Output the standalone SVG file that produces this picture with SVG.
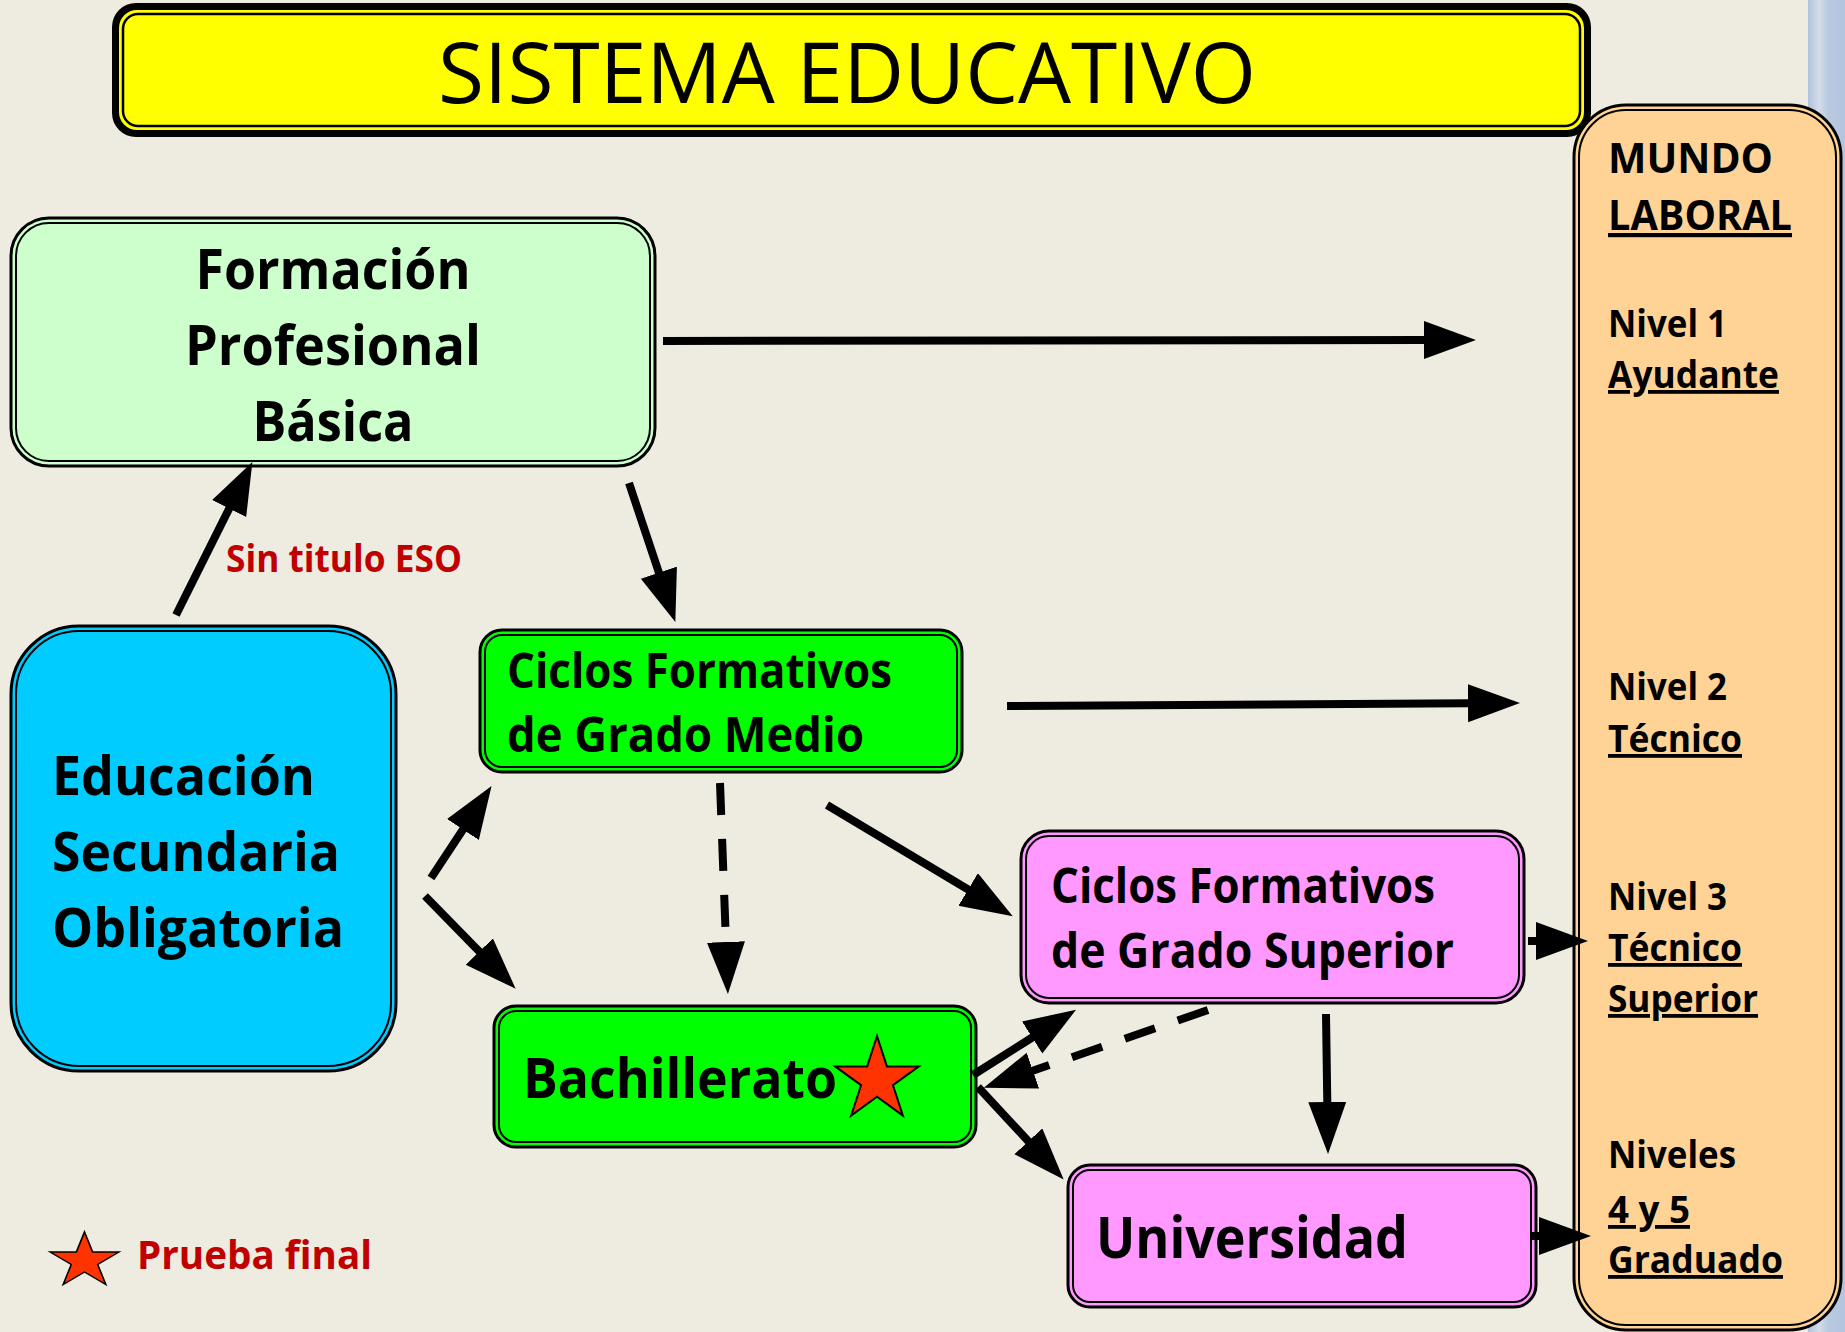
<svg xmlns="http://www.w3.org/2000/svg" width="1845" height="1332" viewBox="0 0 1845 1332">
<defs>
<style>
.bg{fill:#EEEBE0}
.t{font-family:"Open Sans","Noto Sans","Liberation Sans",sans-serif;font-weight:700;fill:#000}
.red{fill:#C00000}
.u{text-decoration:underline}
.outer{stroke:#000;stroke-width:3}
.inner{fill:none;stroke:#000;stroke-width:2}
.ln{stroke:#000;stroke-width:8;fill:none;marker-end:url(#ah)}
.dash{stroke-dasharray:32 24}
.star{fill:#FF3300;stroke:#000;stroke-width:2;stroke-linejoin:miter}
</style>
<marker id="ah" markerUnits="userSpaceOnUse" markerWidth="56" markerHeight="40" refX="1" refY="19" orient="auto">
<path d="M0,0 L52,19 L0,38 z" fill="#000"/>
</marker>
<linearGradient id="strip" x1="0" y1="0" x2="1" y2="0">
<stop offset="0" stop-color="#AFC2DC"/>
<stop offset="0.3" stop-color="#D3DDEA"/>
<stop offset="0.55" stop-color="#B8C9E0"/>
<stop offset="1" stop-color="#B3C5DE"/>
</linearGradient>
<polygon id="star" points="0,-44 9.87,-13.59 41.85,-13.6 15.98,5.19 25.86,35.6 0,16.8 -25.86,35.6 -15.98,5.19 -41.85,-13.6 -9.87,-13.59"/>
</defs>
<rect class="bg" x="0" y="0" width="1845" height="1332"/>
<rect x="1808" y="0" width="37" height="1332" fill="url(#strip)"/>

<g id="title">
<rect x="112" y="3" width="1479" height="134" rx="24" fill="#000"/>
<rect x="119" y="10" width="1465" height="120" rx="18" fill="#FFFF00"/>
<rect x="123" y="14" width="1457" height="112" rx="15" fill="#FFFF00" stroke="#000" stroke-width="2.5"/>
<text x="847" y="103" text-anchor="middle" font-family="Open Sans, Noto Sans, Liberation Sans, sans-serif" font-size="84" textLength="818" lengthAdjust="spacingAndGlyphs">SISTEMA EDUCATIVO</text>
</g>

<g id="mundo-laboral">
<rect class="outer" x="1574" y="105" width="267" height="1225" rx="52" fill="#FFD396"/>
<rect class="inner" x="1579" y="110" width="257" height="1215" rx="47"/>
<text class="t" x="1608" y="173" font-size="42" textLength="165" lengthAdjust="spacingAndGlyphs">MUNDO</text>
<text class="t u" x="1608" y="230" font-size="42" textLength="184" lengthAdjust="spacingAndGlyphs">LABORAL</text>
<text class="t" x="1608" y="337" font-size="38" textLength="119" lengthAdjust="spacingAndGlyphs">Nivel 1</text>
<text class="t u" x="1608" y="388" font-size="38" textLength="171" lengthAdjust="spacingAndGlyphs">Ayudante</text>
<text class="t" x="1608" y="700" font-size="38" textLength="119" lengthAdjust="spacingAndGlyphs">Nivel 2</text>
<text class="t u" x="1608" y="752" font-size="38" textLength="134" lengthAdjust="spacingAndGlyphs">Técnico</text>
<text class="t" x="1608" y="910" font-size="38" textLength="119" lengthAdjust="spacingAndGlyphs">Nivel 3</text>
<text class="t u" x="1608" y="961" font-size="38" textLength="134" lengthAdjust="spacingAndGlyphs">Técnico</text>
<text class="t u" x="1608" y="1012" font-size="38" textLength="150" lengthAdjust="spacingAndGlyphs">Superior</text>
<text class="t" x="1608" y="1168" font-size="38" textLength="128" lengthAdjust="spacingAndGlyphs">Niveles</text>
<text class="t u" x="1608" y="1223" font-size="38" textLength="82" lengthAdjust="spacingAndGlyphs">4 y 5</text>
<text class="t u" x="1608" y="1273" font-size="38" textLength="175" lengthAdjust="spacingAndGlyphs">Graduado</text>
</g>

<g id="fp-basica">
<rect class="outer" x="11" y="218" width="644" height="248" rx="38" fill="#CCFFCC"/>
<rect class="inner" x="16" y="223" width="634" height="238" rx="33"/>
<text class="t" x="333" y="289" font-size="56" text-anchor="middle" textLength="275" lengthAdjust="spacingAndGlyphs">Formación</text>
<text class="t" x="333" y="365" font-size="56" text-anchor="middle" textLength="296" lengthAdjust="spacingAndGlyphs">Profesional</text>
<text class="t" x="333" y="441" font-size="56" text-anchor="middle" textLength="161" lengthAdjust="spacingAndGlyphs">Básica</text>
</g>

<g id="eso">
<rect class="outer" x="11" y="626" width="385" height="445" rx="68" fill="#00CCFF"/>
<rect class="inner" x="16" y="631" width="375" height="435" rx="63"/>
<text class="t" x="52" y="795" font-size="54" textLength="263" lengthAdjust="spacingAndGlyphs">Educación</text>
<text class="t" x="52" y="871" font-size="54" textLength="288" lengthAdjust="spacingAndGlyphs">Secundaria</text>
<text class="t" x="52" y="947" font-size="54" textLength="292" lengthAdjust="spacingAndGlyphs">Obligatoria</text>
</g>

<g id="cf-grado-medio">
<rect class="outer" x="480" y="630" width="482" height="142" rx="22" fill="#00FF00"/>
<rect class="inner" x="485" y="635" width="472" height="132" rx="17"/>
<text class="t" x="507" y="688" font-size="49" textLength="385" lengthAdjust="spacingAndGlyphs">Ciclos Formativos</text>
<text class="t" x="507" y="752" font-size="49" textLength="357" lengthAdjust="spacingAndGlyphs">de Grado Medio</text>
</g>

<g id="bachillerato">
<rect class="outer" x="494" y="1006" width="482" height="141" rx="22" fill="#00FF00"/>
<rect class="inner" x="499" y="1011" width="472" height="131" rx="17"/>
<text class="t" x="523" y="1098" font-size="56" textLength="314" lengthAdjust="spacingAndGlyphs">Bachillerato</text>
<use href="#star" class="star" transform="translate(877,1080)"/>
</g>

<g id="cf-grado-superior">
<rect class="outer" x="1021" y="831" width="503" height="172" rx="28" fill="#FF99FF"/>
<rect class="inner" x="1026" y="836" width="493" height="162" rx="23"/>
<text class="t" x="1051" y="903" font-size="48" textLength="384" lengthAdjust="spacingAndGlyphs">Ciclos Formativos</text>
<text class="t" x="1051" y="968" font-size="48" textLength="403" lengthAdjust="spacingAndGlyphs">de Grado Superior</text>
</g>

<g id="universidad">
<rect class="outer" x="1068" y="1165" width="468" height="142" rx="22" fill="#FF99FF"/>
<rect class="inner" x="1073" y="1170" width="458" height="132" rx="17"/>
<text class="t" x="1096" y="1258" font-size="57" textLength="312" lengthAdjust="spacingAndGlyphs">Universidad</text>
</g>

<g id="connectors">
<line class="ln" x1="176" y1="615" x2="229.6" y2="507.7"/>
<line class="ln" x1="663" y1="341" x2="1425" y2="340"/>
<line class="ln" x1="629" y1="483" x2="659.2" y2="573.6"/>
<line class="ln" x1="1007" y1="706" x2="1469" y2="703.3"/>
<line class="ln" x1="431" y1="878" x2="463.5" y2="828.7"/>
<line class="ln" x1="425" y1="896" x2="480" y2="952.3"/>
<line class="ln dash" x1="720" y1="783" x2="726" y2="943"/>
<line class="ln" x1="827" y1="805" x2="969" y2="890"/>
<line class="ln" x1="1528" y1="941" x2="1537" y2="941"/>
<line class="ln" x1="973" y1="1075" x2="1033" y2="1037"/>
<line class="ln dash" x1="1208" y1="1010" x2="1032" y2="1071"/>
<line class="ln" x1="978" y1="1087" x2="1029" y2="1142"/>
<line class="ln" x1="1326" y1="1014" x2="1327.3" y2="1103"/>
<line class="ln" x1="1530" y1="1236" x2="1540" y2="1236"/>
<text class="t red" x="226" y="572" font-size="38" textLength="236" lengthAdjust="spacingAndGlyphs">Sin titulo ESO</text>
</g>

<g id="legend">
<use href="#star" class="star" transform="translate(84.5,1261) scale(0.825,0.66)" stroke-width="2.6"/>
<text class="t red" x="137" y="1269" font-size="40" textLength="235" lengthAdjust="spacingAndGlyphs">Prueba final</text>
</g>
</svg>
